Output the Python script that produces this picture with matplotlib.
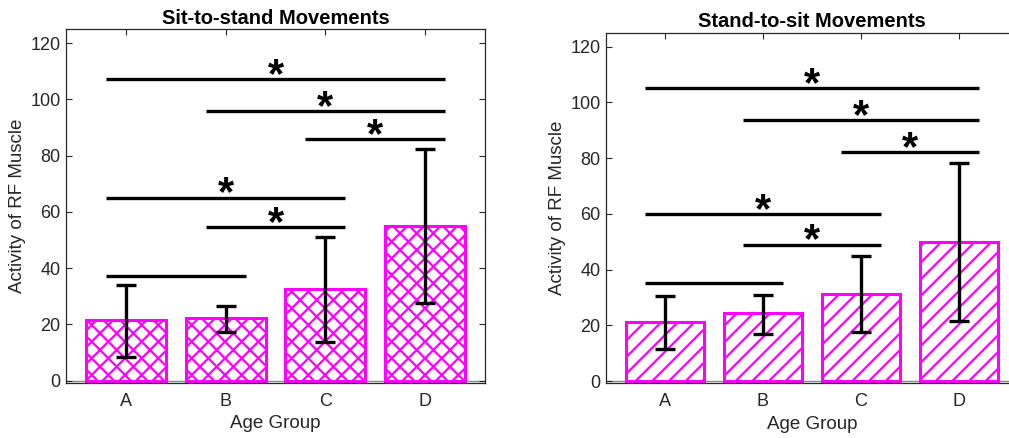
import numpy as np
import matplotlib
matplotlib.use("Agg")
import matplotlib.pyplot as plt

plt.rcParams['font.family'] = ['Liberation Sans', 'DejaVu Sans']
plt.rcParams['hatch.linewidth'] = 1.6

# ── data ──────────────────────────────────────────────────────────────────────
groups = ['A', 'B', 'C', 'D']

sts_mean = [21.6, 22.2, 32.7, 55.0]
sts_low = [8.4, 17.4, 13.6, 27.5]
sts_high = [34.0, 26.6, 51.1, 82.2]

sts_pairs = [(0, 3), (1, 3), (2, 3), (0, 2), (1, 2), (0, 1)]
sts_pair_y = [107.1, 95.9, 85.8, 65.1, 54.6, 37.1]
sts_pair_star = [True, True, True, True, True, False]

sit_mean = [21.3, 24.3, 31.3, 50.0]
sit_low = [11.6, 17.0, 17.5, 21.6]
sit_high = [30.6, 30.8, 44.8, 78.1]

sit_pairs = [(0, 3), (1, 3), (2, 3), (0, 2), (1, 2), (0, 1)]
sit_pair_y = [105.1, 93.6, 82.1, 59.9, 48.9, 35.1]
sit_pair_star = [True, True, True, True, True, False]

MAGENTA = '#ff00ff'
TXT = '#262626'


def panel(ax, title, mean, low, high, pairs, pair_y, stars, hatch):
    x = np.arange(1, len(groups) + 1)
    ax.bar(x, mean, width=0.8, color='white', edgecolor=MAGENTA,
           linewidth=2.2, hatch=hatch, zorder=2)
    ax.axhline(0, color='#888888', lw=1.0, zorder=1)
    mean = np.array(mean)
    yerr = [mean - np.array(low), np.array(high) - mean]
    ax.errorbar(x, mean, yerr=yerr, fmt='none', ecolor='black',
                elinewidth=2.4, capsize=7, capthick=2.4, zorder=4)
    for (i, j), y, s in zip(pairs, pair_y, stars):
        ax.plot([x[i] - 0.2, x[j] + 0.2], [y, y], color='black', lw=2.4,
                solid_capstyle='butt', zorder=4)
        if s:
            ax.text((x[i] + x[j]) / 2, y - 6.0, '*', ha='center', va='bottom',
                    fontsize=30, fontweight='bold', color='black', zorder=5)
    ax.set_xlim(0.4, 4.6)
    ax.set_ylim(-0.8, 125)
    ax.set_xticks(x)
    ax.set_xticklabels(groups)
    ax.set_yticks(np.arange(0, 121, 20))
    ax.tick_params(direction='in', length=4, width=0.8, top=True, right=True,
                   labelsize=13, colors=TXT, pad=4)
    ax.tick_params(axis='x', pad=7)
    for sp in ax.spines.values():
        sp.set_color(TXT)
        sp.set_linewidth(0.9)
    ax.set_xlabel('Age Group', fontsize=13.5, color=TXT, labelpad=4)
    ax.set_ylabel('Activity of RF Muscle', fontsize=13.5, color=TXT, labelpad=3)
    ax.set_title(title, fontsize=14.5, fontweight='bold', color='black', pad=4)


fig = plt.figure(figsize=(10.09, 4.38), dpi=100)
ax1 = fig.add_axes([0.0654, 0.1256, 0.4153, 0.808])
ax2 = fig.add_axes([0.6006, 0.125, 0.4083, 0.80])

panel(ax1, 'Sit-to-stand Movements', sts_mean, sts_low, sts_high,
      sts_pairs, sts_pair_y, sts_pair_star, 'xx')
panel(ax2, 'Stand-to-sit Movements', sit_mean, sit_low, sit_high,
      sit_pairs, sit_pair_y, sit_pair_star, '//')

fig.savefig('out.png', dpi=100)
